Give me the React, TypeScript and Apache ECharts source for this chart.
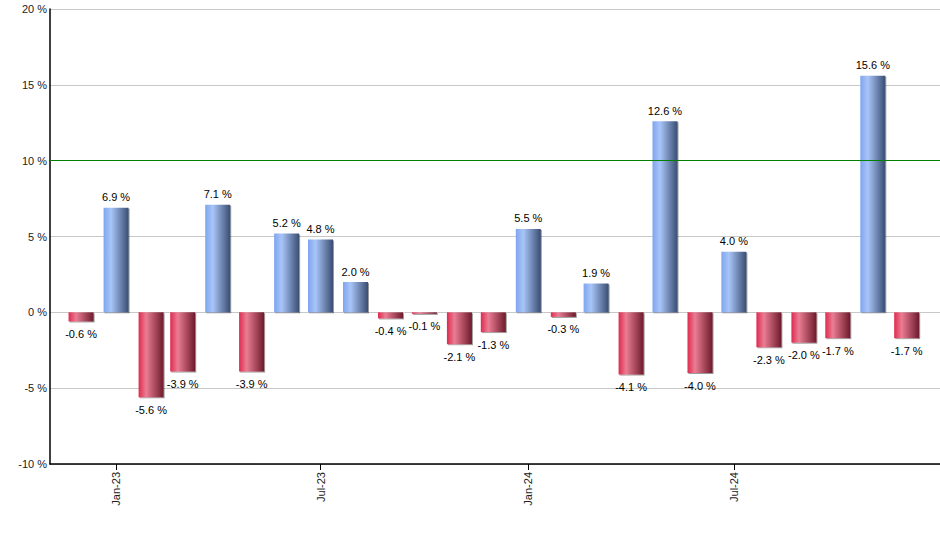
import React, { useEffect, useRef } from "react";
import * as echarts from "echarts";

const months: string[] = [
  "2022-12", "2023-01", "2023-02", "2023-03", "2023-04", "2023-05", "2023-06",
  "2023-07", "2023-08", "2023-09", "2023-10", "2023-11", "2023-12",
  "2024-01", "2024-02", "2024-03", "2024-04", "2024-05", "2024-06",
  "2024-07", "2024-08", "2024-09", "2024-10", "2024-11", "2024-12",
];
const returns: number[] = [
  -0.6, 6.9, -5.6, -3.9, 7.1, -3.9, 5.2, 4.8, 2.0, -0.4, -0.1, -2.1, -1.3,
  5.5, -0.3, 1.9, -4.1, 12.6, -4.0, 4.0, -2.3, -2.0, -1.7, 15.6, -1.7,
];
const tickMonths: string[] = ["2023-01", "2023-07", "2024-01", "2024-07"];
const tickLabels: string[] = ["Jan-23", "Jul-23", "Jan-24", "Jul-24"];
const yTicks: number[] = [-10, -5, 0, 5, 10, 15, 20];
const thresholdValue = 10;

const toTs = (m: string, day = 1, hour = 0) => {
  const [y, mo] = m.split("-").map(Number);
  return Date.UTC(y, mo - 1, day, hour);
};

const FONT = "'Liberation Sans', Arial, sans-serif";

const blueGrad = () =>
  new echarts.graphic.LinearGradient(0, 0, 1, 0, [
    { offset: 0, color: "#7ea5ee" },
    { offset: 0.3, color: "#a9c5f8" },
    { offset: 1, color: "#3a4d72" },
  ]);
const redGrad = () =>
  new echarts.graphic.LinearGradient(0, 0, 1, 0, [
    { offset: 0, color: "#de2a4e" },
    { offset: 0.3, color: "#ea7d93" },
    { offset: 1, color: "#6e1a2c" },
  ]);

export default function App() {
  const ref = useRef<HTMLDivElement>(null);
  useEffect(() => {
    if (!ref.current) return;
    const chart = echarts.init(ref.current, undefined, { renderer: "svg" });
    const tickTs = tickMonths.map((m) => toTs(m));
    const data = months.map((m, i) => {
      const v = returns[i];
      const pos = v >= 0;
      return {
        value: [toTs(m), v],
        itemStyle: { color: pos ? blueGrad() : redGrad() },
        label: { position: pos ? "top" : "bottom", distance: pos ? 5 : 7 },
      };
    });
    chart.setOption({
      animation: false,
      grid: { left: 50, right: 0, top: 9, bottom: 86, containLabel: false },
      xAxis: {
        type: "value",
        min: Date.UTC(2022, 10, 3, 12),
        max: Date.UTC(2024, 11, 30, 12),
        axisLine: { onZero: false, lineStyle: { color: "#000", width: 1.5 } },
        axisTick: { show: true, length: 6, customValues: tickTs, lineStyle: { color: "#000" } },
        axisLabel: {
          customValues: tickTs,
          rotate: 90,
          margin: 8,
          color: "#222",
          fontSize: 11,
          fontFamily: FONT,
          formatter: (v: number) => {
            const idx = tickTs.indexOf(v);
            return idx >= 0 ? tickLabels[idx] : "";
          },
        },
        splitLine: { show: false },
      },
      yAxis: {
        type: "value",
        min: yTicks[0],
        max: yTicks[yTicks.length - 1],
        interval: 5,
        axisLine: { show: true, lineStyle: { color: "#000", width: 1.5 } },
        axisTick: { show: false },
        axisLabel: {
          formatter: "{value} %",
          margin: 3,
          color: "#222",
          fontSize: 11,
          fontFamily: FONT,
        },
        splitLine: { lineStyle: { color: "#c8c8c8", width: 1 } },
      },
      series: [
        {
          type: "bar",
          barWidth: 25,
          data,
          itemStyle: {
            shadowColor: "rgba(0,0,0,0.4)",
            shadowBlur: 0,
            shadowOffsetX: 1,
            shadowOffsetY: 1,
          },
          label: {
            show: true,
            color: "#000",
            fontSize: 11,
            fontFamily: FONT,
            formatter: (p: any) => p.value[1].toFixed(1) + " %",
          },
          markLine: {
            silent: true,
            symbol: "none",
            label: { show: false },
            lineStyle: { color: "#008000", type: "solid", width: 1 },
            data: [{ yAxis: thresholdValue }],
          },
        },
      ],
    });
    return () => chart.dispose();
  }, []);
  return (
    <div
      ref={ref}
      style={{ position: "fixed", left: 0, top: 0, width: 940, height: 550, background: "#fff" }}
    />
  );
}
